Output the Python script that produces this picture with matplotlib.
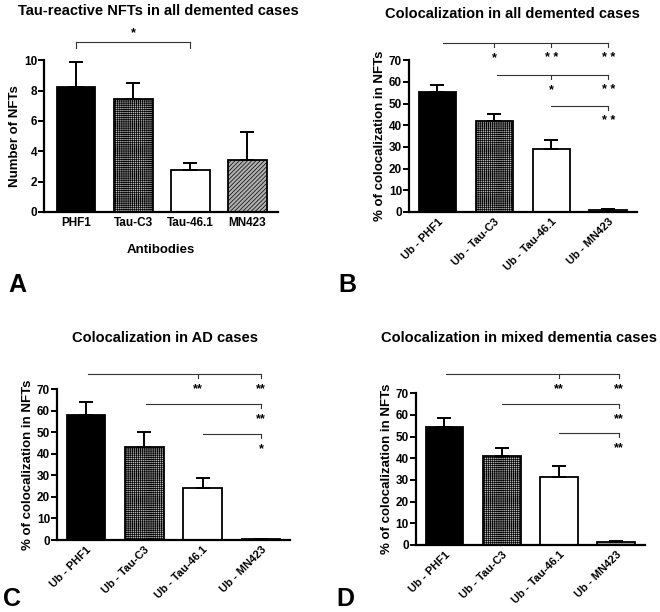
import matplotlib
matplotlib.use("Agg")
import matplotlib.pyplot as plt

plt.rcParams['font.family'] = ['Liberation Sans', 'DejaVu Sans']
plt.rcParams['font.weight'] = 'bold'
plt.rcParams['hatch.linewidth'] = 0.5

# panel A data
antibodies = ['PHF1', 'Tau-C3', 'Tau-46.1', 'MN423']
nft_mean = [8.25, 7.45, 2.75, 3.45]
nft_err = [1.65, 1.05, 0.5, 1.85]

# colocalization panels (B, C, D)
coloc_labels = ['Ub - PHF1', 'Ub - Tau-C3', 'Ub - Tau-46.1', 'Ub - MN423']
all_mean = [55.5, 41.8, 29.2, 0.8]
all_err = [3.3, 3.4, 3.8, 0.4]
ad_mean = [57.8, 43.2, 24.2, 0.3]
ad_err = [6.0, 6.8, 4.6, 0.1]
mixed_mean = [54.2, 41.0, 31.5, 1.2]
mixed_err = [4.3, 3.8, 5.0, 0.6]

# significance lines: (start x, y of line, [(tick x, stars)])
sig_all = [(0.1, 77.8, [(1, '*'), (2, '* *'), (3, '* *')]),
           (1.05, 63.1, [(2, '*'), (3, '* *')]),
           (2.0, 48.8, [(3, '* *')])]
sig_ad = [(0.03, 77.0, [(1.92, '**'), (3, '**')]),
          (1.03, 63.0, [(3, '**')]),
          (2.0, 49.1, [(3, '*')])]
sig_mixed = [(0.03, 78.8, [(2.0, '**'), (3.05, '**')]),
             (1.0, 65.0, [(3.05, '**')]),
             (2.0, 51.6, [(3.05, '**')])]

faces = ['black', '#b8b8b8', 'white', '#a0a0a0']
hatches = [None, '++++++++', None, None]


def style_axes(ax, ymax, step):
    ax.spines['top'].set_visible(False)
    ax.spines['right'].set_visible(False)
    ax.spines['left'].set_linewidth(1.6)
    ax.spines['bottom'].set_linewidth(1.6)
    ax.set_ylim(0, ymax)
    ax.set_yticks(range(0, ymax + 1, step))
    ax.tick_params(axis='y', length=4, width=1.4, labelsize=8.5, pad=1)
    ax.tick_params(axis='x', length=0, labelsize=8)
    for t in ax.get_yticklabels():
        t.set_fontweight('bold')


def draw_bars(ax, means, errs, width, hatch_last=None):
    x = range(len(means))
    bars = ax.bar(x, means, width=width, color=faces, edgecolor='black', linewidth=1.3,
                  yerr=[[0] * len(errs), errs], capsize=5,
                  error_kw=dict(elinewidth=1.4, capthick=1.4, ecolor='black'))
    for b, h in zip(bars, hatches):
        if h:
            b.set_hatch(h)
    if hatch_last:
        bars[-1].set_hatch(hatch_last)
    return bars


def draw_sig(ax, sigs, ymax):
    tick = ymax * 0.025
    gap = ymax * 0.1
    for x0, y, marks in sigs:
        x1 = max(m[0] for m in marks)
        ax.plot([x0, x1], [y, y], color='#333333', lw=0.8, clip_on=False)
        for mx, s in marks:
            ax.plot([mx, mx], [y, y - tick], color='#333333', lw=0.8, clip_on=False)
            ax.text(mx, y - gap, s, ha='center', va='center', fontsize=9, clip_on=False)


def coloc_panel(ax, means, errs, sigs, title, tx, ty, letter, lx, ly):
    draw_bars(ax, means, errs, 0.66)
    style_axes(ax, 70, 10)
    ax.set_xlim(-0.5, 3.5)
    ax.set_xticks(range(4))
    ax.set_xticklabels(coloc_labels, rotation=45, ha='right', rotation_mode='anchor',
                       fontweight='bold', fontsize=8)
    ax.set_ylabel('% of colocalization in NFTs', fontsize=9.5, fontweight='bold', labelpad=2)
    draw_sig(ax, sigs, 70)
    fig.text(lx, ly, letter, fontsize=18, fontweight='bold', ha='left', va='bottom')
    fig.text(tx, ty, title, fontsize=10.5, fontweight='bold', ha='center', va='center')


fig = plt.figure(figsize=(6.6, 6.12), dpi=100)

# panel A
axA = fig.add_axes([0.0667, 0.6536, 0.355, 0.248])
draw_bars(axA, nft_mean, nft_err, 0.68, hatch_last='////////')
axA.patches[-1].set_facecolor('#b0b0b0')
style_axes(axA, 10, 2)
axA.set_xlim(-0.56, 3.54)
axA.set_xticks(range(4))
axA.set_xticklabels(antibodies, fontweight='bold', fontsize=8.5)
axA.set_xlabel('Antibodies', fontsize=9.5, fontweight='bold', labelpad=11)
axA.set_ylabel('Number of NFTs', fontsize=9.5, fontweight='bold', labelpad=2)
axA.plot([0, 2], [11.2, 11.2], color='#333333', lw=0.8, clip_on=False)
axA.plot([0, 0], [11.2, 10.8], color='#333333', lw=0.8, clip_on=False)
axA.plot([2, 2], [11.2, 10.8], color='#333333', lw=0.8, clip_on=False)
axA.text(1, 11.8, '*', ha='center', va='center', fontsize=9)
fig.text(158 / 660, 1 - 11 / 612, 'Tau-reactive NFTs in all demented cases',
         fontsize=10.5, fontweight='bold', ha='center', va='center')
fig.text(8 / 660, 1 - 297 / 612, 'A', fontsize=18, fontweight='bold', ha='left', va='bottom')

# panel B
axB = fig.add_axes([0.6197, 0.6536, 0.345, 0.248])
coloc_panel(axB, all_mean, all_err, sig_all, 'Colocalization in all demented cases',
            512 / 660, 1 - 14 / 612, 'B', 338 / 660, 1 - 297 / 612)

# panel C
axC = fig.add_axes([0.0864, 0.1176, 0.353, 0.2467])
coloc_panel(axC, ad_mean, ad_err, sig_ad, 'Colocalization in AD cases',
            165 / 660, 1 - 338 / 612, 'C', 3 / 660, 1 - 611 / 612)

# panel D
axD = fig.add_axes([0.630, 0.1095, 0.347, 0.248])
coloc_panel(axD, mixed_mean, mixed_err, sig_mixed, 'Colocalization in mixed dementia cases',
            519 / 660, 1 - 338 / 612, 'D', 336 / 660, 1 - 611 / 612)

fig.savefig('out.png', dpi=100)
